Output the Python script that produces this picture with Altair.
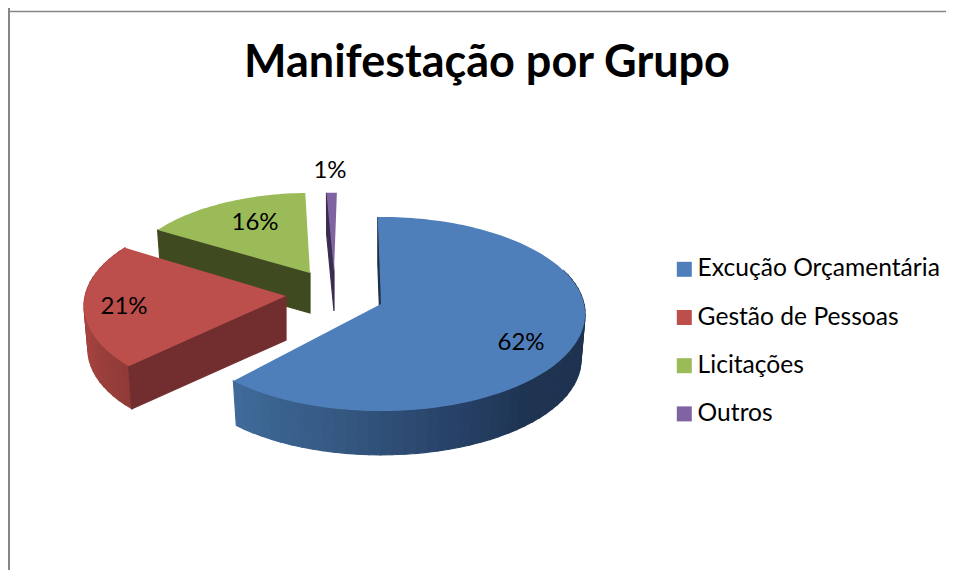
import math
import altair as alt

categories = ["Excução Orçamentária", "Gestão de Pessoas", "Licitações", "Outros"]
values = [62, 21, 16, 1]
labels = ["62%", "21%", "16%", "1%"]
colors = ["#4f7fbb", "#bc4f4b", "#9bbb59", "#8064a2"]
face_colors = ["#1c3048", "#722e2e", "#3f4a20", "#3a2d50"]

# geometry of the 3D view (page pixels)
apex = [(381, 304), (286, 296), (310, 273), (334, 271)]
scale_f = [1.0, 0.99, 0.92, 0.9]
rot = [-1, 3.5, 2, 1]
depth = [46, 44, 40, 40]
label_off = [(140, 39), (-162, 11), (-55, -50), (-4, -100)]
RX, RY, K, SHRINK = 203, 96, 0.103, 0.98
wall_stops = {
    0: [(80, "#1e3250"), (140, "#1f3451"), (165, "#28436a"), (190, "#345780"), (223, "#406b9a")],
    1: [(223, "#8f3b38"), (250, "#a3423e"), (300, "#a8443f")],
}

W, H, TOP = 938, 470, 92
OX, OY = 8, 8 + TOP


def hex2rgb(c):
    return [int(c[i:i + 2], 16) for i in (1, 3, 5)]


def wall_color(i, th):
    st = wall_stops[i]
    for (a, ca), (b, cb) in zip(st, st[1:]):
        if a <= th <= b:
            t = (th - a) / (b - a)
            r = [round(p + (q - p) * t) for p, q in zip(hex2rgb(ca), hex2rgb(cb))]
            return "#%02x%02x%02x" % tuple(r)
    return st[0][1] if th < st[0][0] else st[-1][1]


def outer(i, th):
    t = math.radians(th + rot[i])
    X, Y = math.sin(t), math.cos(t)
    w = 1 + K * Y
    return (apex[i][0] + scale_f[i] * RX * X / w, apex[i][1] - scale_f[i] * RY * Y / w)


def lower(i, p):
    ax, ay = apex[i]
    return (ax + (p[0] - ax) * SHRINK, ay + (p[1] - ay) * SHRINK + depth[i])


def feature(points, **props):
    ring = [[round(x - OX, 2), round(y - OY, 2)] for x, y in points]
    ring.append(ring[0])
    return {"type": "Feature", "properties": props,
            "geometry": {"type": "Polygon", "coordinates": [ring]}}


total = sum(values)
starts, acc = [], 0
for v in values:
    starts.append(acc / total * 360)
    acc += v
ends = starts[1:] + [360]

sides, tops = [], []
for i in (2, 3, 1, 0):
    s, e = starts[i], ends[i]
    p = outer(i, s)
    low_apex = (apex[i][0], apex[i][1] + depth[i])
    sides_face = feature([p, apex[i], low_apex, lower(i, p)], fill=face_colors[i])
    if i in wall_stops:
        s2 = 70 if i == 0 else s
        n = max(8, int((e - s2) / 3))
        for j in range(n):
            a = s2 + (e - s2) * j / n
            b = s2 + (e - s2) * (j + 1) / n
            pa, pb = outer(i, a), outer(i, b)
            sides.append(feature([pa, pb, lower(i, pb), lower(i, pa)],
                                 fill=wall_color(i, (a + b) / 2)))
    sides.append(sides_face)
    n = max(4, int((e - s) / 1.5))
    arc = [outer(i, s + (e - s) * j / n) for j in range(n + 1)]
    tops.append(feature([apex[i]] + arc, name=categories[i]))

proj = alt.Projection(type="identity", scale=1, translate=[0, 0])

side_layer = alt.Chart(alt.Data(values=sides)).mark_geoshape(strokeWidth=1.2).encode(
    fill=alt.Fill("properties.fill:N", scale=None),
    stroke=alt.Stroke("properties.fill:N", scale=None),
).project(**proj.to_dict())

top_layer = alt.Chart(alt.Data(values=tops)).mark_geoshape(strokeWidth=0).encode(
    color=alt.Color(
        "properties.name:N",
        scale=alt.Scale(domain=categories, range=colors),
        legend=alt.Legend(
            title=None, orient="none", legendX=664, legendY=157,
            symbolType="square", symbolSize=225, symbolStrokeWidth=0,
            labelFont="Lato", labelFontSize=24.6, labelColor="#000000",
            rowPadding=23.2, labelOffset=1, labelLimit=320,
        ),
    ),
).project(**proj.to_dict())

lab_rows = [
    {"t": labels[i], "x": apex[i][0] + label_off[i][0] - OX, "y": apex[i][1] + label_off[i][1] - OY}
    for i in range(4)
]
text_layer = alt.Chart(alt.Data(values=lab_rows)).mark_text(
    font="Lato", fontSize=24, color="#000000", align="center", baseline="middle"
).encode(x=alt.X("x:Q", scale=None, axis=None), y=alt.Y("y:Q", scale=None, axis=None), text="t:N")

border = alt.Data(values=[{"a": 0}])
left_line = alt.Chart(border).mark_rule(color="#868686", strokeWidth=2).encode(
    x=alt.value(1), y=alt.value(-TOP), y2=alt.value(H + 0))
top_line = alt.Chart(border).mark_rule(color="#868686", strokeWidth=1.5).encode(
    x=alt.value(0), x2=alt.value(W), y=alt.value(-TOP + 3.5))

chart = alt.layer(side_layer, top_layer, text_layer, left_line, top_line).properties(
    width=W, height=H,
    autosize=alt.AutoSizeParams(type="none"),
    padding={"left": 0, "right": 0, "top": TOP, "bottom": 0},
    title=alt.TitleParams(
        "Manifestação por Grupo", font="Lato", fontSize=45, fontWeight="bold",
        color="#000000", anchor="middle", dx=10, offset=20, dy=99,
    ),
).configure(background="#ffffff").configure_view(stroke=None)

chart.save("out.html", embed_options={"renderer": "svg", "actions": False})
